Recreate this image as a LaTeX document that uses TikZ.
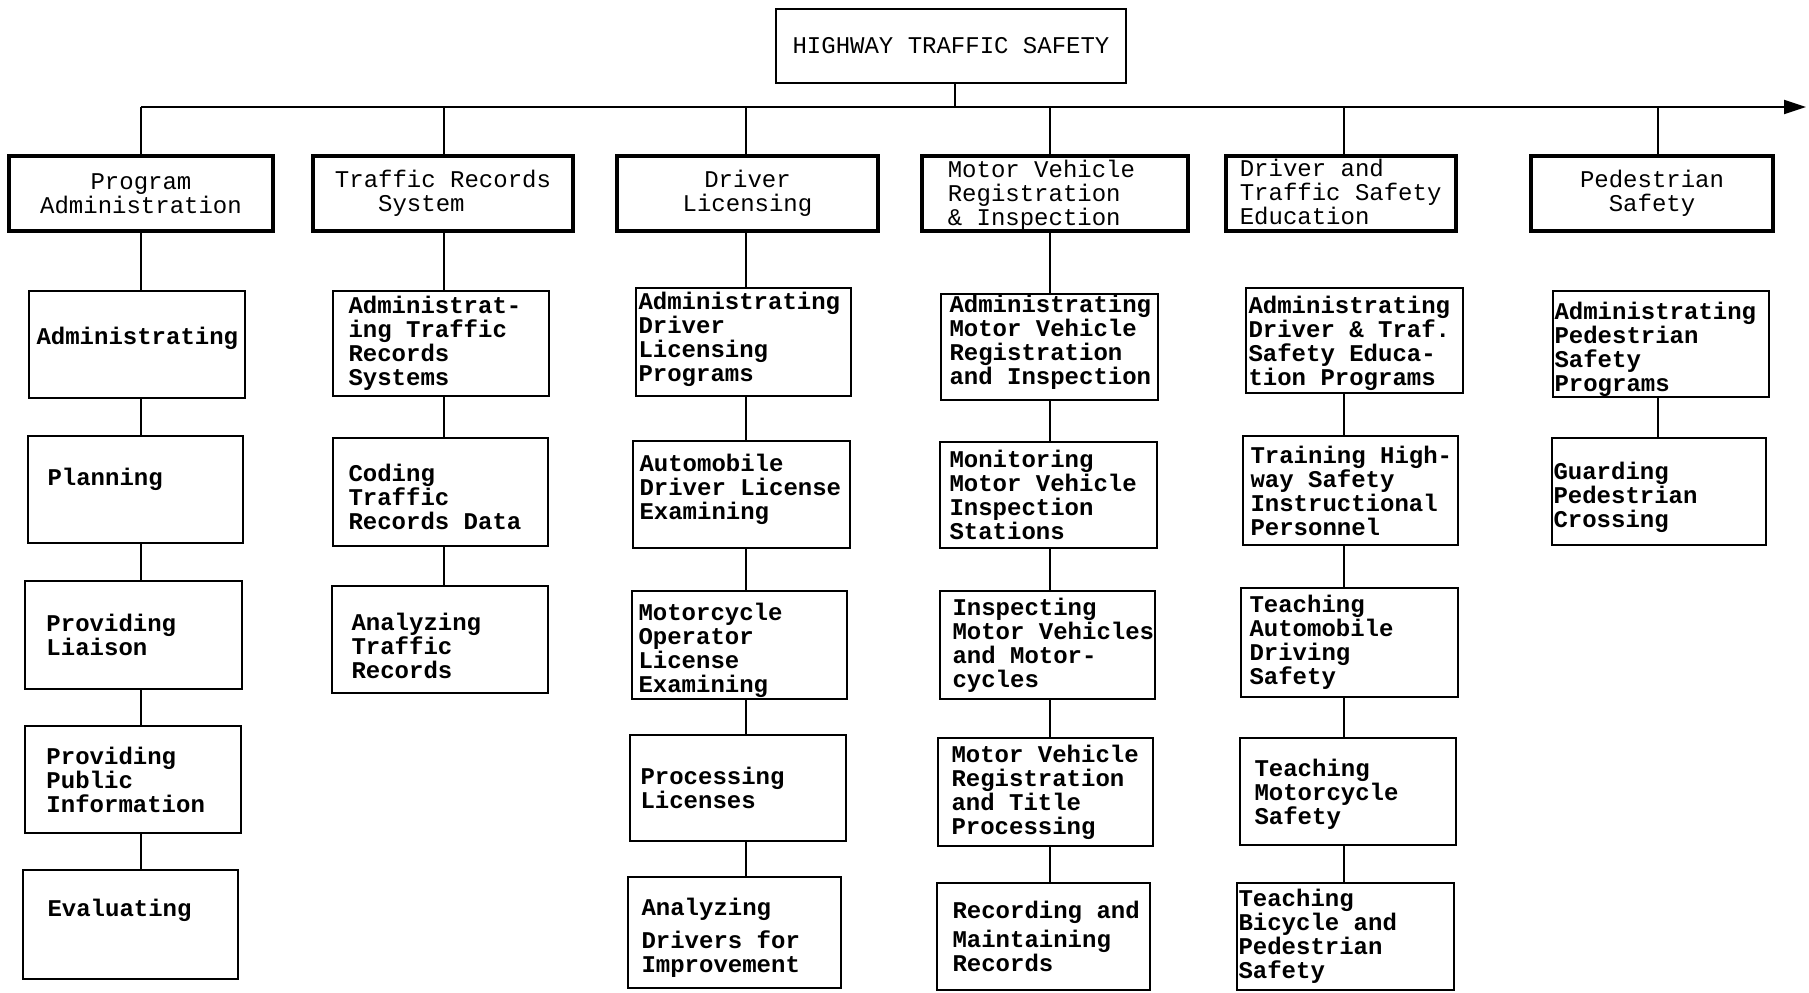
\documentclass[tikz,border=0pt]{standalone}
\usepackage{fontspec}
\setmonofont{Liberation Mono}
\usetikzlibrary{arrows.meta}
\tikzset{
  lvtop/.style={draw, line width=1.1pt, inner sep=0pt},
  lvtop-t/.style={font=\ttfamily\fontsize{12}{12}\selectfont, align=left, inner sep=0pt},
  lvone/.style={draw, line width=1.6pt, inner sep=0pt},
  lvone-t/.style={font=\ttfamily\fontsize{12}{12}\selectfont, align=left, inner sep=0pt},
  lvtwo/.style={draw, line width=0.9pt, inner sep=0pt},
  lvtwo-t/.style={font=\ttfamily\bfseries\fontsize{12}{12}\selectfont, align=left, inner sep=0pt},
  conn/.style={line width=0.8pt},
}
% left-aligned text box: [raise]{style}{name}{x1}{y1}{x2}{y2}{pad}{text}
\newcommand\bx[9][0]{%
  \pgfmathsetmacro\bxw{(#6-#4)*0.5}%
  \pgfmathsetmacro\bxh{(#7-#5)*0.5}%
  \pgfmathsetmacro\bxp{#8*0.5}%
  \pgfmathsetmacro\bxr{#1*0.5}%
  \node[#2, minimum width=\bxw pt, minimum height=\bxh pt] (#3) at ({(#4+#6)/2},{(#5+#7)/2}) {};%
  \node[#2-t, anchor=west] (#3-t) at ([xshift=\bxp pt, yshift=\bxr pt]#3.west) {#9};%
}
% centered text box: [opts]{style}{name}{x1}{y1}{x2}{y2}{text}
\newcommand\cbx[8][]{%
  \pgfmathsetmacro\bxw{(#6-#4)*0.5}%
  \pgfmathsetmacro\bxh{(#7-#5)*0.5}%
  \node[#2, #2-t, align=center, minimum width=\bxw pt, minimum height=\bxh pt, #1] (#3) at ({(#4+#6)/2},{(#5+#7)/2}) {#8};%
}
\begin{document}
\begin{tikzpicture}[x=0.5pt, y=-0.5pt]
\fill[white] (0,0) rectangle (1809,992);
\useasboundingbox (0,0) rectangle (1809,992);

% top
\cbx{lvtop}{top}{776}{9}{1126}{83}{HIGHWAY TRAFFIC SAFETY}

% level 1
\cbx{lvone}{p1}{9}{156}{273}{231}{Program\\Administration}
\cbx[align=left]{lvone}{p2}{313}{156}{573}{231}{Traffic Records\\\hspace*{21.6pt}System}
\cbx{lvone}{p3}{617}{156}{878}{231}{Driver\\Licensing}
\bx[-2]{lvone}{p4}{922}{156}{1188}{231}{27}{Motor Vehicle\\Registration\\\& Inspection}
\bx[2]{lvone}{p5}{1226}{156}{1456}{231}{15}{Driver and\\Traffic Safety\\Education}
\cbx{lvone}{p6}{1531}{156}{1773}{231}{Pedestrian\\Safety}

% column 1
\bx[6]{lvtwo}{a1}{29}{291}{245}{398}{8}{Administrating}
\bx[10]{lvtwo}{a2}{28}{436}{243}{543}{20}{Planning}
\bx{lvtwo}{a3}{25}{581}{242}{689}{22}{Providing\\Liaison}
\bx{lvtwo}{a4}{25}{726}{241}{833}{22}{Providing\\Public\\Information}
\bx[14]{lvtwo}{a5}{23}{870}{238}{979}{25}{Evaluating}

% column 2
\bx{lvtwo}{b1}{333}{291}{549}{396}{16}{Administrat-\\ing Traffic\\Records\\Systems}
\bx[-5]{lvtwo}{b2}{333}{438}{548}{546}{16}{Coding\\Traffic\\Records Data}
\bx[-6]{lvtwo}{b3}{332}{586}{548}{693}{20}{Analyzing\\Traffic\\Records}

% column 3
\bx[3]{lvtwo}{c1}{636}{288}{851}{396}{3}{Administrating\\Driver\\Licensing\\Programs}
\bx[5]{lvtwo}{c2}{633}{441}{850}{548}{7}{Automobile\\Driver License\\Examining}
\bx[-5]{lvtwo}{c3}{632}{591}{847}{699}{7}{Motorcycle\\Operator\\License\\Examining}
\bx{lvtwo}{c4}{630}{735}{846}{841}{11}{Processing\\Licenses}
\bx[-5]{lvtwo}{c5}{628}{877}{841}{988}{14}{Analyzing\\[4.5pt]Drivers for\\Improvement}

% column 4
\bx[5]{lvtwo}{d1}{941}{294}{1158}{400}{9}{Administrating\\Motor Vehicle\\Registration\\and Inspection}
\bx{lvtwo}{d2}{940}{442}{1157}{548}{10}{Monitoring\\Motor Vehicle\\Inspection\\Stations}
\bx{lvtwo}{d3}{940}{591}{1155}{699}{13}{Inspecting\\Motor Vehicles\\and Motor-\\cycles}
\bx{lvtwo}{d4}{938}{738}{1153}{846}{14}{Motor Vehicle\\Registration\\and Title\\Processing}
\bx{lvtwo}{d5}{937}{883}{1150}{990}{16}{Recording and\\[2.3pt]Maintaining\\Records}

% column 5
\bx[-3]{lvtwo}{e1}{1246}{288}{1463}{393}{3}{Administrating\\Driver \& Traf.\\Safety Educa-\\tion Programs}
\bx{lvtwo}{e2}{1243}{436}{1458}{545}{8}{Training High-\\way Safety\\Instructional\\Personnel}
\bx{lvtwo}{e3}{1241}{588}{1458}{697}{9}{Teaching\\Automobile\\Driving\\Safety}
\bx[-3]{lvtwo}{e4}{1240}{738}{1456}{845}{15}{Teaching\\Motorcycle\\Safety}
\bx{lvtwo}{e5}{1237}{883}{1454}{990}{2}{Teaching\\Bicycle and\\Pedestrian\\Safety}

% column 6
\bx[-5]{lvtwo}{f1}{1553}{291}{1769}{397}{2}{Administrating\\Pedestrian\\Safety\\Programs}
\bx[-6]{lvtwo}{f2}{1552}{438}{1766}{545}{2}{Guarding\\Pedestrian\\Crossing}

% connectors
\coordinate (k0) at (955,107);
\coordinate (k1) at (141,107);
\coordinate (k2) at (444,107);
\coordinate (k3) at (746,107);
\coordinate (k4) at (1050,107);
\coordinate (k5) at (1344,107);
\coordinate (k6) at (1658,107);
\coordinate (kend) at (1806,107);

\draw[conn] (top.south -| k0) -- (k0);
\draw[line width=1pt, -{Triangle[length=11pt,width=7pt]}] (k1) -- (kend);
\foreach \i in {1,...,6} {\draw[conn] (k\i) -- (p\i.north -| k\i);}

\draw[conn] (p1.south -| k1) -- (a1.north -| k1);
\draw[conn] (a1.south -| k1) -- (a2.north -| k1);
\draw[conn] (a2.south -| k1) -- (a3.north -| k1);
\draw[conn] (a3.south -| k1) -- (a4.north -| k1);
\draw[conn] (a4.south -| k1) -- (a5.north -| k1);

\draw[conn] (p2.south -| k2) -- (b1.north -| k2);
\draw[conn] (b1.south -| k2) -- (b2.north -| k2);
\draw[conn] (b2.south -| k2) -- (b3.north -| k2);

\draw[conn] (p3.south -| k3) -- (c1.north -| k3);
\draw[conn] (c1.south -| k3) -- (c2.north -| k3);
\draw[conn] (c2.south -| k3) -- (c3.north -| k3);
\draw[conn] (c3.south -| k3) -- (c4.north -| k3);
\draw[conn] (c4.south -| k3) -- (c5.north -| k3);

\draw[conn] (p4.south -| k4) -- (d1.north -| k4);
\draw[conn] (d1.south -| k4) -- (d2.north -| k4);
\draw[conn] (d2.south -| k4) -- (d3.north -| k4);
\draw[conn] (d3.south -| k4) -- (d4.north -| k4);
\draw[conn] (d4.south -| k4) -- (d5.north -| k4);

\draw[conn] (e1.south -| k5) -- (e2.north -| k5);
\draw[conn] (e2.south -| k5) -- (e3.north -| k5);
\draw[conn] (e3.south -| k5) -- (e4.north -| k5);
\draw[conn] (e4.south -| k5) -- (e5.north -| k5);

\draw[conn] (f1.south -| k6) -- (f2.north -| k6);
\end{tikzpicture}
\end{document}
